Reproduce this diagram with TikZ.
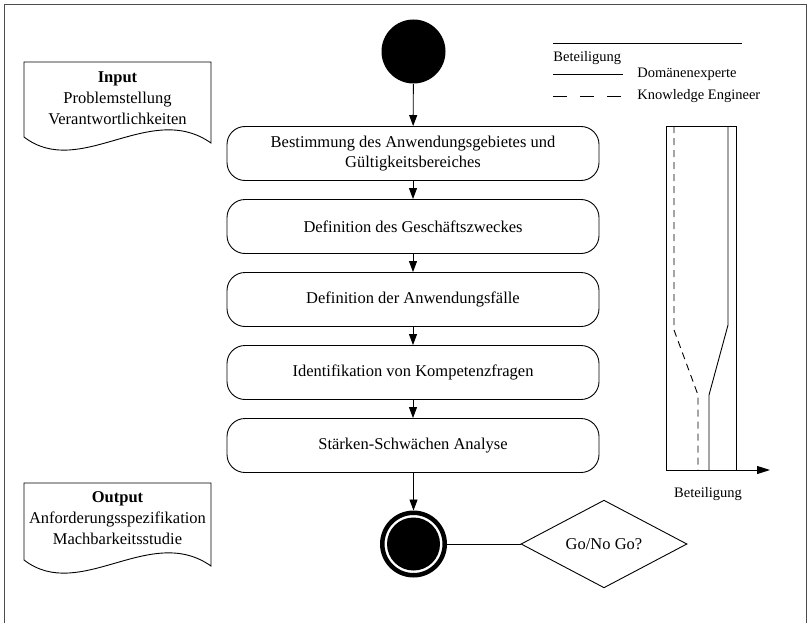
\documentclass[tikz,border=0pt]{standalone}
\usepackage{fontspec}
\setmainfont{Liberation Serif}
\usetikzlibrary{arrows.meta,shapes.geometric}

\begin{document}
\begin{tikzpicture}[x=1pt,y=-1pt,
  line width=0.9pt,
  every node/.style={font=\fontsize{16.5}{20.5}\selectfont},
  stepbox/.style={draw, rounded corners=18pt, minimum width=372pt,
    minimum height=54pt, align=center, inner sep=0pt},
  flow/.style={-{Triangle[length=11pt,width=8pt]}},
  docshape/.style={draw, line width=0.9pt},
  doctext/.style={align=center, inner sep=0pt,
    font=\fontsize{16.5}{21}\selectfont},
  legendtext/.style={font=\fontsize{14.5}{17}\selectfont, inner sep=0pt},
  kedash/.style={dash pattern=on 14pt off 13pt},
  chartdash/.style={dash pattern=on 7pt off 5pt},
]
\useasboundingbox (0,0) rectangle (810,623);

% outer frame
\draw[gray!60!black, line width=1pt] (4,623) -- (4,5) -- (806,5) -- (806,623);

% input / output documents
\draw[docshape] (24,137) -- (24,62) -- (211,62) -- (211,143)
  .. controls (150,100) and (80,180) .. (24,137) -- cycle;
\node[doctext] (input) at (117.5,98) {\textbf{Input}\\Problemstellung\\Verantwortlichkeiten};

\draw[docshape] (24,560) -- (24,483) -- (211,483) -- (211,566)
  .. controls (150,523) and (80,603) .. (24,560) -- cycle;
\node[doctext] (output) at (117.5,518) {\textbf{Output}\\Anforderungsspezifikation\\Machbarkeitsstudie};

% activity flow
\node[circle, fill=black, minimum size=64pt, inner sep=0pt] (start) at (413.5,51.5) {};

\node[stepbox] (b1) at (413,153.5) {Bestimmung des Anwendungsgebietes und\\Gültigkeitsbereiches};
\node[stepbox] (b2) at (413,226.5) {Definition des Geschäftszweckes};
\node[stepbox] (b3) at (413,299.5) {Definition der Anwendungsfälle};
\node[stepbox] (b4) at (413,372.5) {Identifikation von Kompetenzfragen};
\node[stepbox] (b5) at (413,445.5) {Stärken-Schwächen Analyse};

\node[circle, draw=black, line width=4.5pt, fill=white, minimum size=62.5pt,
  inner sep=0pt,
  path picture={\fill[black] (path picture bounding box.center) circle[radius=26.5pt];}]
  (end) at (413.5,544) {};

\node[diamond, draw, minimum width=166pt, minimum height=83pt, inner sep=0pt]
  (go) at (604,544) {Go/No Go?};

\draw[flow] (start) -- (b1);
\draw[flow] (b1) -- (b2);
\draw[flow] (b2) -- (b3);
\draw[flow] (b3) -- (b4);
\draw[flow] (b4) -- (b5);
\draw[flow] (b5.south -| end) -- (end);
\draw (end) -- (go);

% legend
\draw (553,43) -- (742,43);
\node[legendtext, anchor=west] (legtitle) at (553,58) {Beteiligung};
\draw (553,74) -- (623,74);
\node[legendtext, anchor=west] (legde) at (637,74) {Domänenexperte};
\draw[kedash] (553,96) -- (623,96);
\node[legendtext, anchor=west] (legke) at (637,96) {Knowledge Engineer};

% participation chart
\draw (666,470) -- (666,126) -- (736,126) -- (736,470);
\draw[-{Triangle[length=13pt,width=8pt]}] (666,470) -- (770,470);
\draw (728,126) -- (728,325) -- (709,395) -- (709,470);
\draw[chartdash] (674,126) -- (674,330) -- (698,395) -- (698,470);
\node[legendtext] (axislabel) at (708,494) {Beteiligung};
\end{tikzpicture}
\end{document}
